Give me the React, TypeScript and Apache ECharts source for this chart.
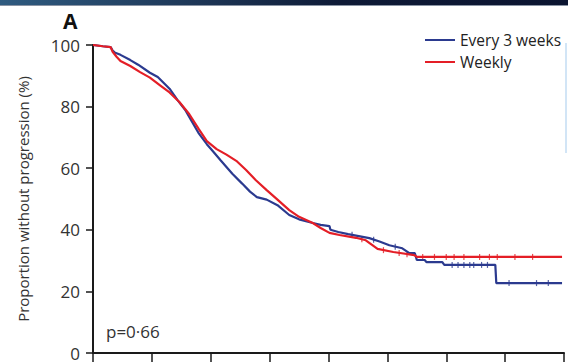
import React, { useEffect, useRef } from "react";
import * as echarts from "echarts";

const seriesNames = ["Every 3 weeks", "Weekly"];
const xTicks = [0, 3, 6, 9, 12, 15, 18, 21, 24];
const yTicks = [0, 20, 40, 60, 80, 100];

const every3Weeks: [number, number][] = [
  [0, 100], [0.5, 99.6], [0.9, 99.3], [1.0, 98.2], [1.1, 97.6], [1.4, 96.8], [1.9, 95.1],
  [2.3, 93.6], [2.9, 91.0], [3.3, 89.6], [3.9, 85.8], [4.3, 82.2], [4.7, 78.9], [5.0, 75.6],
  [5.4, 71.2], [5.8, 67.8], [6.1, 65.6], [6.5, 62.6], [7.1, 58.2], [7.6, 55.0], [8.0, 52.4],
  [8.35, 50.6], [8.85, 49.8], [9.4, 48.0], [10.0, 44.8], [10.5, 43.4], [11.2, 42.2],
  [11.6, 41.6], [12.05, 41.2], [12.1, 40.0], [12.5, 39.3], [13.0, 38.6], [14.08, 37.3],
  [14.6, 36.2], [15.1, 35.0], [15.76, 34.0], [16.1, 32.5], [16.4, 32.4], [16.5, 30.2],
  [16.9, 30.2], [17.0, 29.5], [17.8, 29.5], [17.9, 28.6], [20.5, 28.6], [20.55, 22.7],
  [23.9, 22.7],
];

const weekly: [number, number][] = [
  [0, 100], [0.5, 99.6], [0.9, 99.3], [1.0, 97.8], [1.2, 96.2], [1.4, 94.8], [1.9, 93.2],
  [2.4, 91.2], [2.9, 89.4], [3.4, 87.0], [3.9, 84.6], [4.4, 81.5], [4.9, 77.6], [5.4, 72.6],
  [5.8, 68.8], [6.3, 66.2], [6.8, 64.4], [7.3, 62.4], [7.8, 59.4], [8.3, 56.1], [8.85, 52.9],
  [9.4, 49.8], [10.0, 46.4], [10.5, 44.2], [11.2, 42.2], [11.6, 40.6], [12.05, 39.0],
  [12.56, 38.3], [13.4, 37.4], [13.9, 36.6], [14.2, 35.2], [14.5, 33.8], [15.3, 32.8],
  [16.37, 31.8], [16.5, 31.2], [23.9, 31.2],
];

const every3WeeksCensored: [number, number][] = [
  [13.2, 38.4], [14.3, 36.8], [15.4, 34.5],
  [18.3, 28.6], [18.6, 28.6], [18.9, 28.6], [19.2, 28.6], [19.4, 28.6], [19.8, 28.6], [20.1, 28.6],
  [21.2, 22.7], [22.6, 22.7], [23.2, 22.7],
];

const weeklyCensored: [number, number][] = [
  [13.7, 36.9], [14.8, 33.4], [15.6, 32.5], [16.0, 32.1], [16.8, 31.2], [17.4, 31.2],
  [18.0, 31.2], [18.4, 31.2], [18.9, 31.2], [19.7, 31.2], [20.2, 31.2], [20.6, 31.2],
  [21.5, 31.2], [22.4, 31.2],
];

const BLUE = "#2b3a8f";
const RED = "#e41e26";
const FONT = "'Open Sans', sans-serif";

export default function App() {
  const ref = useRef<HTMLDivElement>(null);
  useEffect(() => {
    if (!ref.current) return;
    const chart = echarts.init(ref.current, undefined, { renderer: "svg" });
    chart.setOption({
      animation: false,
      backgroundColor: "#ffffff",
      textStyle: { fontFamily: FONT },
      grid: { left: 93, right: 4, top: 45, bottom: 9, containLabel: false },
      xAxis: {
        type: "value",
        min: xTicks[0],
        max: xTicks[xTicks.length - 1],
        interval: 3,
        axisLine: { lineStyle: { color: "#1a1a1a", width: 2 } },
        axisTick: { show: true, length: 10, lineStyle: { color: "#1a1a1a", width: 1.5 } },
        axisLabel: { show: false },
        splitLine: { show: false },
      },
      yAxis: {
        type: "value",
        min: yTicks[0],
        max: yTicks[yTicks.length - 1],
        interval: 20,
        name: "Proportion without progression (%)",
        nameLocation: "middle",
        nameGap: 63,
        nameTextStyle: { fontSize: 15, color: "#333", fontFamily: FONT },
        axisLine: { show: true, lineStyle: { color: "#1a1a1a", width: 2 } },
        axisTick: { show: true, length: 7, lineStyle: { color: "#1a1a1a", width: 1.5 } },
        axisLabel: { fontSize: 17, color: "#333", margin: 13, fontFamily: FONT },
        splitLine: { show: false },
      },
      legend: {
        data: seriesNames,
        orient: "vertical",
        left: 420,
        top: 27,
        icon: "rect",
        itemWidth: 30,
        itemHeight: 2,
        itemGap: 6,
        textStyle: { fontSize: 15.5, color: "#222", fontFamily: FONT },
      },
      series: [
        {
          name: seriesNames[0],
          type: "line",
          data: every3Weeks,
          showSymbol: false,
          symbol: "none",
          lineStyle: { color: BLUE, width: 2.2 },
          itemStyle: { color: BLUE },
        },
        {
          name: seriesNames[1],
          type: "line",
          data: weekly,
          showSymbol: false,
          symbol: "none",
          lineStyle: { color: RED, width: 2.2 },
          itemStyle: { color: RED },
        },
        {
          name: "c1",
          type: "scatter",
          data: every3WeeksCensored,
          symbol: "rect",
          symbolSize: [1.2, 6],
          itemStyle: { color: BLUE },
        },
        {
          name: "c2",
          type: "scatter",
          data: weeklyCensored,
          symbol: "rect",
          symbolSize: [1.2, 6],
          itemStyle: { color: RED },
        },
      ],
      graphic: [
        {
          type: "rect",
          left: 0,
          top: 0,
          shape: { width: 568, height: 5 },
          style: {
            fill: new echarts.graphic.LinearGradient(0, 0, 1, 0, [
              { offset: 0, color: "#2f5b80" },
              { offset: 0.35, color: "#1d3656" },
              { offset: 0.6, color: "#0e1a36" },
              { offset: 1, color: "#0b1430" },
            ]),
          },
        },
        {
          type: "rect",
          left: 0,
          top: 5,
          shape: { width: 568, height: 1 },
          style: { fill: "#8a94a4" },
        },
        {
          type: "rect",
          left: 565,
          top: 43,
          shape: { width: 2, height: 110 },
          style: { fill: "#d2e5f6" },
        },
        {
          type: "text",
          left: 63,
          top: 10,
          style: { text: "A", fill: "#111", font: `bold 21px ${FONT}` },
        },
        {
          type: "text",
          left: 106,
          top: 323,
          style: { text: "p=0·66", fill: "#333", font: `17px ${FONT}` },
        },
      ],
    });
    return () => chart.dispose();
  }, []);
  return (
    <div
      ref={ref}
      style={{ position: "absolute", left: 0, top: 0, width: 568, height: 362 }}
    />
  );
}
